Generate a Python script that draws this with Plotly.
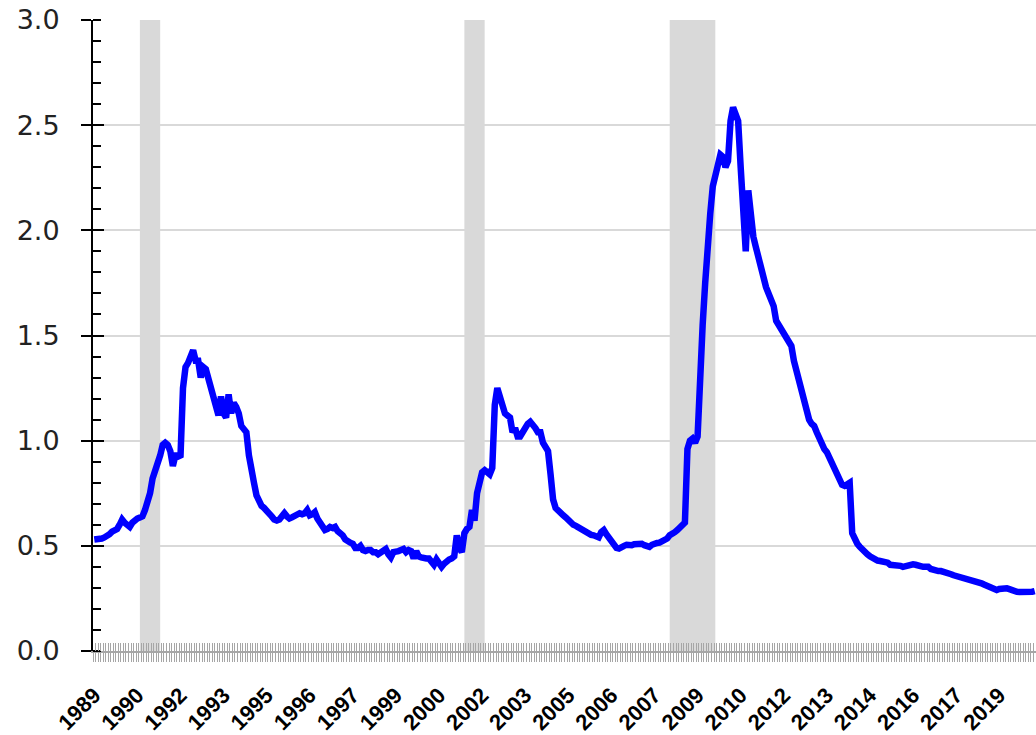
import plotly.graph_objects as go
import pandas as pd

# Monthly series, Jan 1989 - Dec 2019 (one row per year)
v1989 = [0.53, 0.53, 0.535, 0.535, 0.54, 0.545, 0.555, 0.567, 0.575, 0.58, 0.60, 0.625]
v1990 = [0.61, 0.60, 0.59, 0.61, 0.625, 0.63, 0.635, 0.64, 0.67, 0.71, 0.75, 0.82]
v1991 = [0.85, 0.89, 0.93, 0.98, 0.99, 0.98, 0.95, 0.88, 0.93, 0.93, 0.92, 1.25]
v1992 = [1.35, 1.37, 1.41, 1.43, 1.38, 1.38, 1.30, 1.35, 1.34, 1.29, 1.25, 1.21]
v1993 = [1.16, 1.12, 1.21, 1.13, 1.11, 1.22, 1.13, 1.18, 1.16, 1.13, 1.07, 1.05]
v1994 = [1.04, 0.93, 0.88, 0.80, 0.74, 0.71, 0.69, 0.68, 0.67, 0.66, 0.64, 0.625]
v1995 = [0.62, 0.625, 0.64, 0.655, 0.64, 0.63, 0.635, 0.64, 0.645, 0.655, 0.65, 0.655]
v1996 = [0.67, 0.645, 0.65, 0.66, 0.63, 0.615, 0.60, 0.575, 0.58, 0.59, 0.585, 0.59]
v1997 = [0.57, 0.56, 0.55, 0.53, 0.52, 0.515, 0.51, 0.49, 0.49, 0.50, 0.48, 0.475]
v1998 = [0.48, 0.48, 0.47, 0.47, 0.46, 0.47, 0.48, 0.485, 0.46, 0.445, 0.47, 0.47]
v1999 = [0.475, 0.48, 0.485, 0.47, 0.48, 0.475, 0.44, 0.475, 0.45, 0.445, 0.44, 0.44]
v2000 = [0.44, 0.43, 0.41, 0.435, 0.42, 0.40, 0.415, 0.43, 0.435, 0.44, 0.45, 0.55]
v2001 = [0.49, 0.47, 0.56, 0.58, 0.59, 0.67, 0.62, 0.75, 0.80, 0.85, 0.86, 0.85]
v2002 = [0.84, 0.87, 1.17, 1.25, 1.20, 1.18, 1.13, 1.12, 1.11, 1.04, 1.06, 1.02]
v2003 = [1.02, 1.04, 1.07, 1.08, 1.09, 1.08, 1.06, 1.04, 1.04, 0.99, 0.97, 0.95]
v2004 = [0.84, 0.72, 0.68, 0.665, 0.655, 0.645, 0.635, 0.62, 0.61, 0.60, 0.595, 0.587]
v2005 = [0.575, 0.567, 0.56, 0.556, 0.552, 0.55, 0.545, 0.54, 0.565, 0.575, 0.555, 0.54]
v2006 = [0.515, 0.50, 0.49, 0.487, 0.49, 0.50, 0.505, 0.503, 0.503, 0.508, 0.51, 0.514]
v2007 = [0.51, 0.503, 0.498, 0.495, 0.505, 0.514, 0.514, 0.515, 0.52, 0.53, 0.535, 0.55]
v2008 = [0.555, 0.565, 0.575, 0.585, 0.595, 0.61, 0.96, 1.00, 1.01, 0.99, 1.02, 1.34]
v2009 = [1.55, 1.75, 1.96, 2.08, 2.21, 2.26, 2.33, 2.36, 2.35, 2.30, 2.33, 2.52]
v2010 = [2.585, 2.56, 2.52, 2.30, 2.12, 1.90, 2.19, 2.04, 1.97, 1.92, 1.87, 1.83]
v2011 = [1.75, 1.73, 1.70, 1.66, 1.64, 1.57, 1.55, 1.53, 1.52, 1.50, 1.48, 1.45]
v2012 = [1.38, 1.33, 1.28, 1.23, 1.19, 1.15, 1.10, 1.08, 1.07, 1.04, 1.01, 0.98]
v2013 = [0.96, 0.945, 0.92, 0.90, 0.875, 0.845, 0.81, 0.79, 0.785, 0.79, 0.80, 0.56]
v2014 = [0.53, 0.51, 0.495, 0.48, 0.47, 0.46, 0.45, 0.44, 0.435, 0.43, 0.428, 0.425]
v2015 = [0.425, 0.42, 0.41, 0.41, 0.412, 0.41, 0.405, 0.40, 0.403, 0.41, 0.41, 0.412]
v2016 = [0.41, 0.405, 0.405, 0.40, 0.40, 0.40, 0.39, 0.385, 0.382, 0.38, 0.38, 0.378]
v2017 = [0.372, 0.37, 0.365, 0.36, 0.357, 0.353, 0.35, 0.35, 0.346, 0.344, 0.34, 0.335]
v2018 = [0.332, 0.328, 0.322, 0.316, 0.31, 0.303, 0.298, 0.292, 0.29, 0.295, 0.298, 0.298]
v2019 = [0.298, 0.294, 0.288, 0.282, 0.281, 0.28, 0.279, 0.278, 0.277, 0.279, 0.282, 0.285]

yearly = [v1989, v1990, v1991, v1992, v1993, v1994, v1995, v1996, v1997, v1998,
          v1999, v2000, v2001, v2002, v2003, v2004, v2005, v2006, v2007, v2008,
          v2009, v2010, v2011, v2012, v2013, v2014, v2015, v2016, v2017, v2018, v2019]
values = [v for yr in yearly for v in yr]

months = pd.date_range("1989-01-01", periods=len(values), freq="MS").strftime("%Y-%m").tolist()
xidx = list(range(len(months)))

# Tick labels (every 17th month, as in the source)
tick_months = ["1989-01", "1990-06", "1991-11", "1993-04", "1994-09", "1996-02", "1997-07",
               "1998-12", "2000-05", "2001-10", "2003-03", "2004-08", "2006-01", "2007-06",
               "2008-11", "2010-04", "2011-09", "2013-02", "2014-07", "2015-12", "2017-05", "2018-10"]
tick_labels = ["1989", "1990", "1992", "1993", "1995", "1996", "1997", "1999", "2000", "2002", "2003",
               "2005", "2006", "2007", "2009", "2010", "2012", "2013", "2014", "2016", "2017", "2019"]

# Recessions
rec_start = ["1990-07", "2001-03", "2007-12"]
rec_end = ["1991-03", "2001-11", "2009-06"]

pos = {m: i for i, m in enumerate(months)}
tickvals = [pos[m] for m in tick_months]

fig = go.Figure()
fig.add_trace(go.Scatter(x=xidx, y=values, mode="lines",
                         line=dict(color="#0000FF", width=6.5), hoverinfo="skip",
                         showlegend=False))
# helper empty traces so overlay axes are drawn
fig.add_trace(go.Scatter(x=[None], y=[None], xaxis="x2", yaxis="y", showlegend=False))
fig.add_trace(go.Scatter(x=[None], y=[None], xaxis="x3", yaxis="y", showlegend=False))
fig.add_trace(go.Scatter(x=[None], y=[None], xaxis="x", yaxis="y2", showlegend=False))

shapes = []
for s, e in zip(rec_start, rec_end):
    shapes.append(dict(type="rect", xref="x", yref="y", x0=pos[s], x1=pos[e], y0=0, y1=3,
                       fillcolor="#d9d9d9", line=dict(width=0), layer="below"))

xr = [-0.5, len(months) - 0.5]
fig.update_layout(
    width=1036, height=735,
    margin=dict(l=93, r=0, t=20, b=84, autoexpand=False),
    paper_bgcolor="white", plot_bgcolor="white",
    shapes=shapes,
    showlegend=False,
    xaxis=dict(range=xr, showgrid=False, zeroline=False, automargin=False,
               showline=True, linecolor="#a6a6a6", linewidth=2,
               tickmode="linear", tick0=-0.5, dtick=1,
               ticks="outside", ticklen=9, tickwidth=1, tickcolor="#a6a6a6",
               showticklabels=False),
    xaxis2=dict(range=xr, overlaying="x", anchor="y", side="bottom", matches="x",
                showgrid=False, zeroline=False, showline=False, automargin=False,
                tickmode="linear", tick0=-0.5, dtick=1,
                ticks="inside", ticklen=8, tickwidth=1, tickcolor="#a6a6a6",
                showticklabels=False),
    xaxis3=dict(range=xr, overlaying="x", anchor="y", side="bottom", matches="x",
                showgrid=False, zeroline=False, showline=False, automargin=False,
                tickmode="array", tickvals=tickvals, ticktext=tick_labels,
                ticks="", tickangle=-45, ticklabelstandoff=26,
                tickfont=dict(family="Liberation Sans", size=22, color="black", weight="bold")),
    yaxis=dict(range=[0, 3], tickmode="linear", tick0=0, dtick=0.5, tickformat=".1f",
               showgrid=True, gridcolor="#d9d9d9", gridwidth=2, zeroline=False,
               showline=True, linecolor="black", linewidth=2, automargin=False,
               ticks="outside", ticklen=10, tickwidth=2, tickcolor="black",
               ticklabelstandoff=16,
               tickfont=dict(family="DejaVu Sans", size=27, color="#222222"),
               minor=dict(tickmode="linear", tick0=0, dtick=0.1, ticks="inside",
                          ticklen=8, tickwidth=1.5, tickcolor="black", showgrid=False)),
    yaxis2=dict(range=[0, 3], overlaying="y", anchor="x", side="left", matches="y",
                tickmode="linear", tick0=0, dtick=0.5, showgrid=False, zeroline=False,
                showline=False, automargin=False, ticks="inside", ticklen=11, tickwidth=2,
                tickcolor="black", showticklabels=False),
)

fig.write_html("out.html", config={"displayModeBar": False},
               post_script="document.body.style.margin='0px';document.body.style.overflow='hidden';")
